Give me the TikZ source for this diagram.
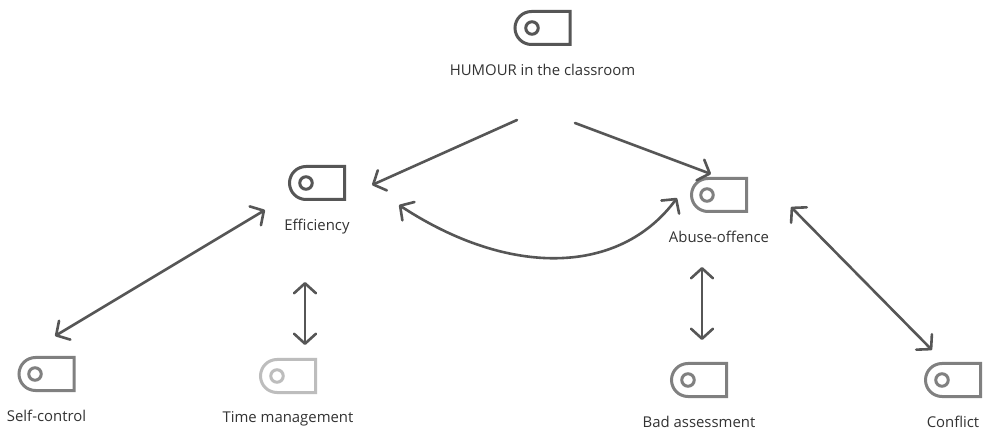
\documentclass[tikz,border=0pt]{standalone}
\usepackage{xcolor}
\usepackage{fontspec}
\setmainfont{Open Sans}
\usetikzlibrary{arrows.meta}
\definecolor{darkline}{HTML}{565656}
\definecolor{midline}{HTML}{808080}
\definecolor{paleline}{HTML}{BDBDBD}
\definecolor{textgrey}{HTML}{333333}
\tikzset{
	tagbox/.style={shape=rectangle,minimum width=55pt,minimum height=33pt,inner sep=0pt,outer sep=0pt,
		append after command={\pgfextra{\draw[#1,line width=3pt] ([xshift=16.5pt]\tikzlastnode.north west) arc (90:270:16.5pt) -- (\tikzlastnode.south east) -- (\tikzlastnode.north east) -- cycle;}},
		label={[textgrey,font=\fontsize{14.9}{17}\selectfont,label distance=15.7pt]below:\tagtext}},
	tagdot/.style={shape=circle,draw=#1,line width=3pt,minimum size=12.5pt,inner sep=0pt,outer sep=0pt},
	link/.style={draw=darkline,line width=2.6pt,line cap=round},
	onetip/.style={link,-{Straight Barb[length=10pt,width=22pt,line width=2.6pt,round]}},
	bothtip/.style={link,{Straight Barb[length=10pt,width=22pt,line width=2.6pt,round]}-{Straight Barb[length=10pt,width=22pt,line width=2.6pt,round]}}
}
\newcommand{\tagtext}{}
\begin{document}
\begin{tikzpicture}[x=1pt,y=-1pt]
	\useasboundingbox[fill=white] (0,0) rectangle (991,430);
	\renewcommand{\tagtext}{HUMOUR in the classroom}
	\node (humour) at(542.5,28)[tagbox=darkline]{};
	\node (humourdot) at(532,28)[tagdot=darkline]{};
	\renewcommand{\tagtext}{Efficiency}
	\node (efficiency) at(317,183)[tagbox=darkline]{};
	\node (efficiencydot) at(306,183)[tagdot=darkline]{};
	\renewcommand{\tagtext}{Abuse-offence}
	\node (abuse) at(719,195)[tagbox=midline]{};
	\node (abusedot) at(707,195)[tagdot=midline]{};
	\renewcommand{\tagtext}{Self-control}
	\node (selfcontrol) at(46.5,374)[tagbox=midline]{};
	\node (selfcontroldot) at(35,374)[tagdot=midline]{};
	\renewcommand{\tagtext}{Time management}
	\node (timemanagement) at(288,376)[tagbox=paleline]{};
	\node (timemanagementdot) at(277,376)[tagdot=paleline]{};
	\renewcommand{\tagtext}{Bad assessment}
	\node (badassessment) at(699,380)[tagbox=midline]{};
	\node (badassessmentdot) at(688,380)[tagdot=midline]{};
	\renewcommand{\tagtext}{Conflict}
	\node (conflict) at(953,380)[tagbox=midline]{};
	\node (conflictdot) at(942,380)[tagdot=midline]{};
	% free arrow ends
	\coordinate (humourleft) at(517,120);
	\coordinate (humourright) at(575,123);
	\coordinate (efficiencytop) at(372,185);
	\coordinate (efficiencyright) at(399,205);
	\coordinate (efficiencyleft) at(265,210);
	\coordinate (efficiencybottom) at(305,282);
	\coordinate (abusetop) at(711,174);
	\coordinate (abuseleft) at(677,198);
	\coordinate (abusebottom) at(702,267);
	\coordinate (abuseright) at(791,207);
	\coordinate (selfcontroltop) at(55,336);
	\coordinate (timemanagementtop) at(305,345);
	\coordinate (badassessmenttop) at(702,340);
	\coordinate (conflicttop) at(932,350);
	\draw[onetip] (humourleft) -- (efficiencytop);
	\draw[onetip] (humourright) -- (abusetop);
	\draw[bothtip] (efficiencyright) .. controls (510,278) and (620,275) .. (abuseleft);
	\draw[bothtip] (efficiencyleft) -- (selfcontroltop);
	\draw[bothtip] (efficiencybottom) -- (timemanagementtop);
	\draw[bothtip] (abusebottom) -- (badassessmenttop);
	\draw[bothtip] (abuseright) -- (conflicttop);
\end{tikzpicture}
\end{document}
